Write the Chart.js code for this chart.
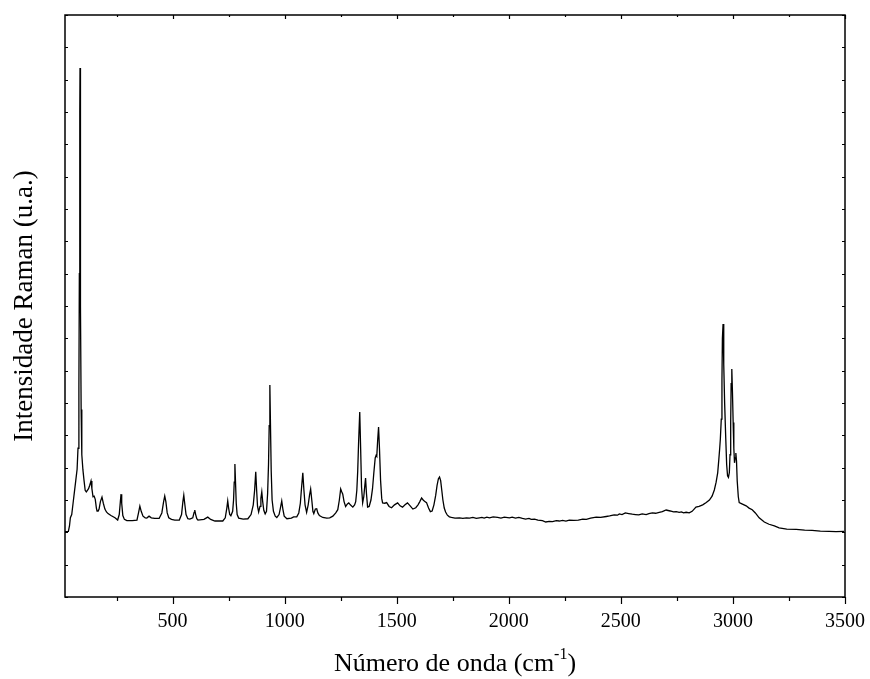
<!DOCTYPE html>
<html><head><meta charset="utf-8">
<script src="https://cdn.jsdelivr.net/npm/chart.js@4.4.1/dist/chart.umd.min.js"></script>
<style>html,body{margin:0;padding:0;background:#fff;}#wrap{width:870px;height:679px;}</style>
</head><body><div id="wrap"><canvas id="c" width="870" height="679"></canvas></div>
<script>
// Wavenumber (cm-1) and Raman intensity (a.u.)
const wavenumbers = [20,35,40,44,50,56,62,68,74,78,82,84,86,87,88,90,92,95,100,105,110,115,120,125,130,136,140,145,150,155,160,163,168,172,178,185,191,198,205,212,225,243,255,262,267,270,273,278,285,296,320,341,348,354,360,368,378,385,395,405,420,440,452,460,465,470,476,483,495,510,530,540,546,550,554,560,568,577,590,596,599,603,608,613,640,657,670,689,724,735,742,746,750,755,760,768,772,775,778,781,784,788,795,815,836,850,860,866,871,875,879,884,890,894,898,902,907,913,919,924,928,931,934,937,940,944,950,958,965,975,981,987,992,998,1010,1030,1040,1054,1063,1070,1075,1081,1086,1091,1098,1105,1111,1116,1121,1126,1130,1137,1143,1148,1155,1170,1188,1201,1215,1228,1237,1244,1250,1255,1259,1265,1272,1280,1286,1293,1304,1312,1317,1322,1326,1330,1335,1339,1343,1348,1353,1357,1361,1365,1370,1377,1385,1392,1398,1404,1408,1411,1415,1419,1423,1428,1433,1437,1447,1455,1466,1477,1490,1504,1515,1526,1537,1548,1560,1572,1585,1595,1603,1611,1618,1624,1633,1642,1650,1658,1666,1674,1680,1686,1691,1696,1701,1706,1712,1718,1726,1735,1744,1760,1780,1795,1811,1825,1840,1855,1869,1880,1890,1902,1914,1930,1950,1965,1980,2003,2015,2030,2045,2061,2075,2090,2100,2115,2130,2150,2165,2180,2195,2212,2225,2240,2255,2270,2290,2310,2330,2346,2365,2390,2410,2435,2450,2470,2485,2493,2505,2520,2535,2551,2565,2580,2595,2613,2625,2640,2655,2671,2685,2702,2720,2735,2747,2760,2770,2780,2791,2805,2818,2835,2849,2865,2881,2895,2907,2917,2925,2932,2937,2941,2944,2948,2951,2953,2956,2959,2963,2968,2972,2976,2980,2984,2987,2990,2992,2995,2998,3001,3004,3007,3010,3013,3016,3019,3024,3028,3040,3059,3072,3086,3100,3117,3140,3161,3185,3206,3240,3282,3320,3353,3390,3429,3460,3496];
const intensity = [2.02,2.03,2.20,2.45,2.55,2.90,3.25,3.60,3.95,4.60,6.50,10.00,15.00,16.36,15.00,9.00,5.80,4.40,3.93,3.60,3.30,3.25,3.30,3.35,3.45,3.59,3.35,3.10,3.12,3.02,2.75,2.66,2.66,2.72,2.95,3.09,2.90,2.72,2.63,2.58,2.52,2.45,2.38,2.55,2.95,3.18,2.90,2.52,2.40,2.36,2.36,2.38,2.60,2.81,2.65,2.50,2.45,2.44,2.50,2.45,2.43,2.43,2.60,2.95,3.12,2.95,2.60,2.45,2.40,2.38,2.38,2.55,2.95,3.15,2.90,2.55,2.42,2.41,2.45,2.62,2.69,2.55,2.42,2.38,2.40,2.47,2.40,2.35,2.35,2.45,2.75,2.97,2.75,2.55,2.51,2.65,3.00,3.55,4.11,3.50,2.90,2.55,2.44,2.41,2.42,2.55,2.85,3.30,3.87,3.30,2.80,2.63,2.80,3.05,3.25,2.95,2.68,2.57,2.65,3.20,4.10,5.30,6.56,5.20,3.90,3.00,2.65,2.50,2.46,2.55,2.75,2.97,2.72,2.50,2.42,2.44,2.48,2.48,2.60,2.90,3.35,3.84,3.30,2.85,2.62,2.85,3.15,3.34,3.00,2.65,2.58,2.72,2.73,2.60,2.52,2.46,2.44,2.45,2.50,2.60,2.70,3.00,3.34,3.25,3.19,2.95,2.80,2.88,2.91,2.85,2.78,2.85,2.95,3.30,3.90,4.80,5.72,4.60,3.40,2.91,3.10,3.40,3.68,3.20,2.78,2.80,3.00,3.35,3.85,4.30,4.38,4.35,4.85,5.26,4.60,3.60,3.05,2.91,2.90,2.92,2.80,2.76,2.85,2.91,2.82,2.78,2.85,2.91,2.82,2.72,2.76,2.85,2.95,3.06,3.00,2.96,2.92,2.75,2.64,2.66,2.85,3.15,3.45,3.66,3.71,3.60,3.30,3.00,2.75,2.63,2.53,2.48,2.46,2.44,2.45,2.43,2.45,2.44,2.46,2.43,2.45,2.46,2.44,2.47,2.45,2.48,2.46,2.44,2.47,2.45,2.47,2.44,2.46,2.43,2.41,2.43,2.40,2.41,2.38,2.36,2.32,2.34,2.33,2.36,2.35,2.37,2.35,2.38,2.37,2.38,2.41,2.40,2.44,2.47,2.46,2.49,2.51,2.54,2.53,2.57,2.55,2.60,2.58,2.56,2.55,2.54,2.57,2.55,2.58,2.60,2.59,2.62,2.64,2.69,2.66,2.63,2.64,2.62,2.63,2.60,2.62,2.60,2.65,2.78,2.80,2.85,2.92,3.00,3.12,3.31,3.55,3.84,4.25,4.60,4.90,5.50,6.70,8.00,8.44,7.20,6.00,4.90,4.10,3.75,3.70,3.85,4.40,5.40,6.60,7.05,6.30,5.40,4.60,4.15,4.30,4.45,4.20,3.60,3.10,2.92,2.88,2.82,2.75,2.70,2.60,2.45,2.32,2.25,2.20,2.14,2.10,2.09,2.07,2.06,2.04,2.03,2.02,2.03,2.02];
const xTickLabels = [500,1000,1500,2000,2500,3000,3500];
const xMinorTicks = [250,750,1250,1750,2250,2750,3250];
const yTickValues = [0,1,2,3,4,5,6,7,8,9,10,11,12,13,14,15,16,17,18];
const xTitleMain = 'Número de onda (cm';
const xTitleSup = '-1';
const xTitleEnd = ')';
const yTitle = 'Intensidade Raman (u.a.)';

const FONT = "'Liberation Serif', 'Times New Roman', serif";

const framePlugin = {
  id: 'frame',
  afterDraw(chart) {
    const {ctx, chartArea: a, scales: {x, y}} = chart;
    ctx.save();
    ctx.strokeStyle = '#000';
    ctx.lineWidth = 1.5;
    ctx.strokeRect(a.left, a.top, a.right - a.left, a.bottom - a.top);
    ctx.lineWidth = 1.2;
    ctx.beginPath();
    xTickLabels.forEach(v => {
      const px = Math.round(x.getPixelForValue(v)) + 0.5;
      ctx.moveTo(px, a.bottom); ctx.lineTo(px, a.bottom + 7);
      ctx.moveTo(px, a.top); ctx.lineTo(px, a.top + 4);
    });
    xMinorTicks.forEach(v => {
      const px = Math.round(x.getPixelForValue(v)) + 0.5;
      ctx.moveTo(px, a.bottom); ctx.lineTo(px, a.bottom + 4);
      ctx.moveTo(px, a.top); ctx.lineTo(px, a.top + 2);
    });
    yTickValues.forEach(v => {
      const py = Math.round(y.getPixelForValue(v)) + 0.5;
      ctx.moveTo(a.left, py); ctx.lineTo(a.left + 3, py);
      ctx.moveTo(a.right, py); ctx.lineTo(a.right - 3, py);
    });
    ctx.stroke();
    ctx.fillStyle = '#000';
    ctx.textBaseline = 'alphabetic';
    ctx.font = '26px ' + FONT;
    const w1 = ctx.measureText(xTitleMain).width;
    const w3 = ctx.measureText(xTitleEnd).width;
    ctx.font = '16px ' + FONT;
    const w2 = ctx.measureText(xTitleSup).width;
    const total = w1 + w2 + w3;
    const cx = (a.left + a.right) / 2;
    const sx = cx - total / 2;
    const base = 671;
    ctx.font = '26px ' + FONT;
    ctx.fillText(xTitleMain, sx, base);
    ctx.font = '16px ' + FONT;
    ctx.fillText(xTitleSup, sx + w1, base - 12);
    ctx.font = '26px ' + FONT;
    ctx.fillText(xTitleEnd, sx + w1 + w2, base);
    ctx.restore();
  }
};

new Chart(document.getElementById('c'), {
  type: 'line',
  data: {
    datasets: [{
      data: wavenumbers.map((w, i) => ({x: w, y: intensity[i]})),
      borderColor: '#000',
      borderWidth: 1.3,
      pointRadius: 0,
      tension: 0,
      fill: false
    }]
  },
  options: {
    responsive: false,
    animation: false,
    devicePixelRatio: 1,
    layout: {padding: {top: 15, right: 24, left: 0, bottom: 0}},
    plugins: {legend: {display: false}, tooltip: {enabled: false}},
    scales: {
      x: {
        type: 'linear',
        min: 20, max: 3500,
        grid: {display: false},
        border: {display: false},
        afterBuildTicks: s => { s.ticks = xTickLabels.map(v => ({value: v})); },
        afterFit: s => { s.height = 82; },
        ticks: {color: '#000', font: {family: FONT, size: 20}, padding: 5, maxRotation: 0, autoSkip: false, callback: v => String(v)},
        title: {display: false}
      },
      y: {
        min: 0, max: 18,
        grid: {display: false},
        border: {display: false},
        afterBuildTicks: s => { s.ticks = yTickValues.map(v => ({value: v})); },
        afterFit: s => { s.width = 65; },
        ticks: {display: false},
        title: {display: true, text: yTitle, color: '#000', font: {family: FONT, size: 27}, padding: {top: 9, bottom: 0}}
      }
    }
  },
  plugins: [framePlugin]
});
</script>
</body></html>
